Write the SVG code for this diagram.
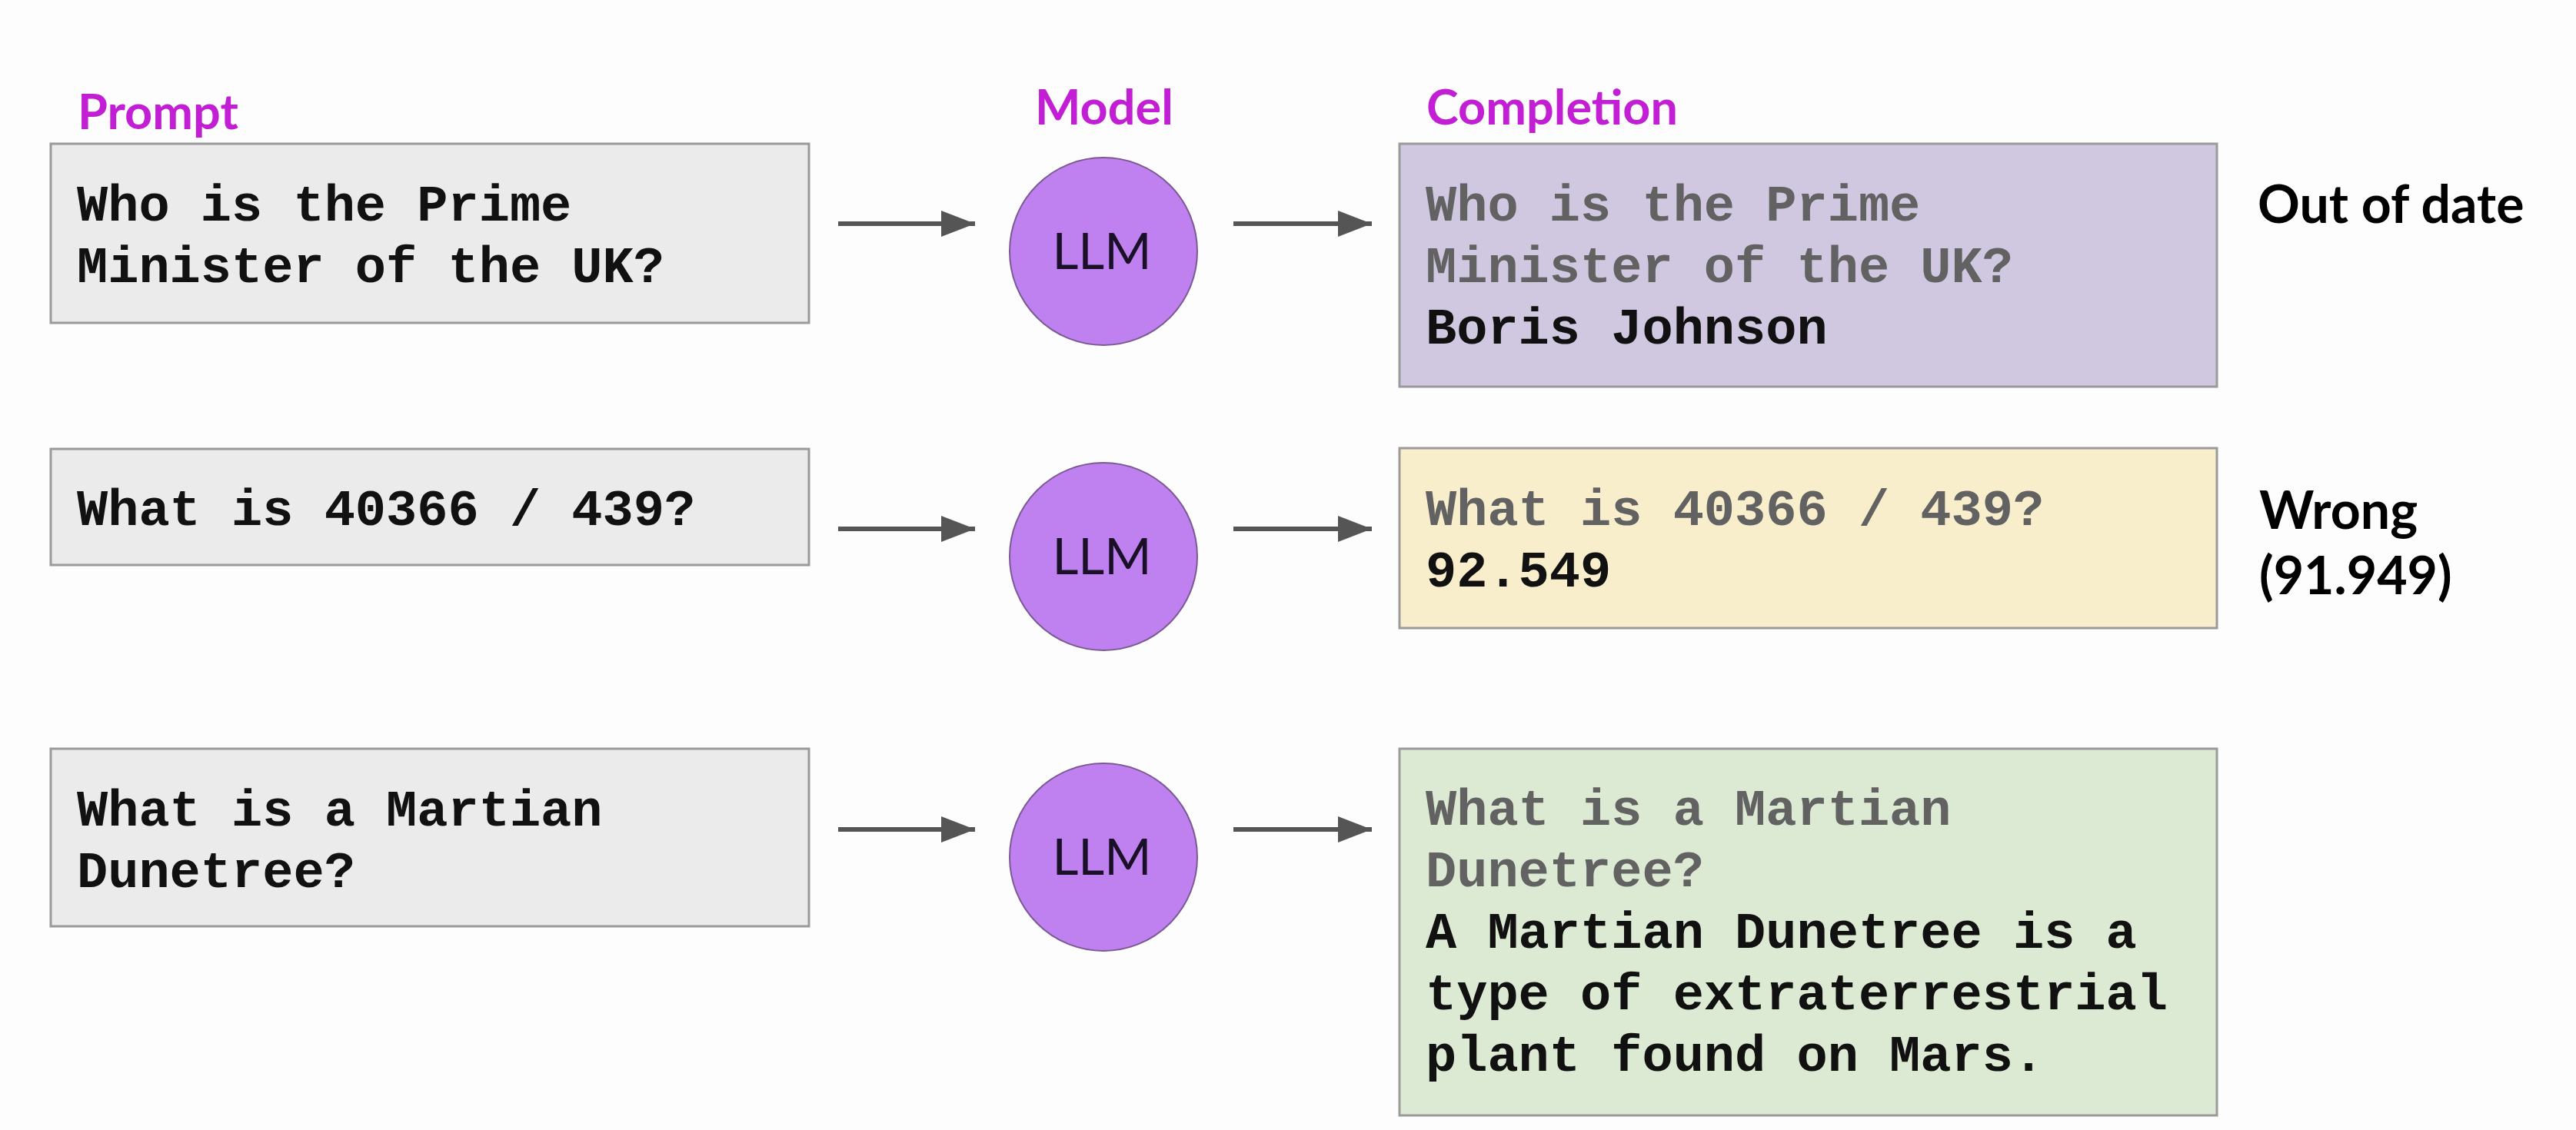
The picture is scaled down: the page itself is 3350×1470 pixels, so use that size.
<svg xmlns="http://www.w3.org/2000/svg" width="3350" height="1470" viewBox="0 0 3350 1470">
<style>
.hdr{font-family:Lato,"Liberation Sans",sans-serif;font-weight:700;font-size:63px;fill:#c21fd4}
.box{stroke:#9a9a9a;stroke-width:3}
.pbox{fill:#ebebeb}
.mono{font-family:"Liberation Mono","Courier New",monospace;font-weight:700;font-size:67px;fill:#111}
.gray{fill:#626262}
.llm{fill:#bf80f0;stroke:#7b5a92;stroke-width:2}
.llmt{font-family:Lato,"Liberation Sans",sans-serif;font-size:66px;fill:#1a1028;text-anchor:middle}
.note{font-family:Lato,"Liberation Sans",sans-serif;font-weight:700;font-size:68px;fill:#000}
.arr{stroke:#555;stroke-width:6;fill:none}
</style>
<defs>
<marker id="ah" markerUnits="userSpaceOnUse" markerWidth="44" markerHeight="34" refX="44" refY="17" orient="auto">
<path d="M0,0 L44,17 L0,34 Z" fill="#555"/>
</marker>
</defs>
<rect width="3350" height="1470" fill="#fdfdfd"/>
<text class="hdr" x="101" y="168">Prompt</text>
<text class="hdr" x="1346" y="162">Model</text>
<text class="hdr" x="1855" y="162">Completion</text>

<g id="prompt1">
<rect class="box pbox" x="66" y="187" width="986" height="233"/>
<text class="mono" x="100" y="287">Who is the Prime</text>
<text class="mono" x="100" y="367">Minister of the UK?</text>
</g>
<g id="prompt2">
<rect class="box pbox" x="66" y="584" width="986" height="151"/>
<text class="mono" x="100" y="683">What is 40366 / 439?</text>
</g>
<g id="prompt3">
<rect class="box pbox" x="66" y="974" width="986" height="231"/>
<text class="mono" x="100" y="1074">What is a Martian</text>
<text class="mono" x="100" y="1154">Dunetree?</text>
</g>

<g id="llm1"><circle class="llm" cx="1435" cy="327" r="122"/><text class="llmt" x="1433" y="350">LLM</text></g>
<g id="llm2"><circle class="llm" cx="1435" cy="724" r="122"/><text class="llmt" x="1433" y="747">LLM</text></g>
<g id="llm3"><circle class="llm" cx="1435" cy="1115" r="122"/><text class="llmt" x="1433" y="1138">LLM</text></g>

<g id="completion1">
<rect class="box" fill="#cfc8e0" x="1820" y="187" width="1063" height="316"/>
<text class="mono gray" x="1854" y="287">Who is the Prime</text>
<text class="mono gray" x="1854" y="367">Minister of the UK?</text>
<text class="mono" x="1854" y="447">Boris Johnson</text>
</g>
<g id="completion2">
<rect class="box" fill="#f8eecc" x="1820" y="583" width="1063" height="234"/>
<text class="mono gray" x="1854" y="683">What is 40366 / 439?</text>
<text class="mono" x="1854" y="763">92.549</text>
</g>
<g id="completion3">
<rect class="box" fill="#dce9d3" x="1820" y="974" width="1063" height="477"/>
<text class="mono gray" x="1854" y="1073">What is a Martian</text>
<text class="mono gray" x="1854" y="1153">Dunetree?</text>
<text class="mono" x="1854" y="1233">A Martian Dunetree is a</text>
<text class="mono" x="1854" y="1313">type of extraterrestrial</text>
<text class="mono" x="1854" y="1393">plant found on Mars.</text>
</g>

<g id="note1"><text class="note" x="2936" y="290">Out of date</text></g>
<g id="note2"><text class="note" x="2938" y="688">Wrong</text><text class="note" x="2938" y="773">(91.949)</text></g>

<g id="connectors">
<line class="arr" x1="1090" y1="291" x2="1268" y2="291" marker-end="url(#ah)"/>
<line class="arr" x1="1604" y1="291" x2="1784" y2="291" marker-end="url(#ah)"/>
<line class="arr" x1="1090" y1="688" x2="1268" y2="688" marker-end="url(#ah)"/>
<line class="arr" x1="1604" y1="688" x2="1784" y2="688" marker-end="url(#ah)"/>
<line class="arr" x1="1090" y1="1079" x2="1268" y2="1079" marker-end="url(#ah)"/>
<line class="arr" x1="1604" y1="1079" x2="1784" y2="1079" marker-end="url(#ah)"/>
</g>
</svg>
